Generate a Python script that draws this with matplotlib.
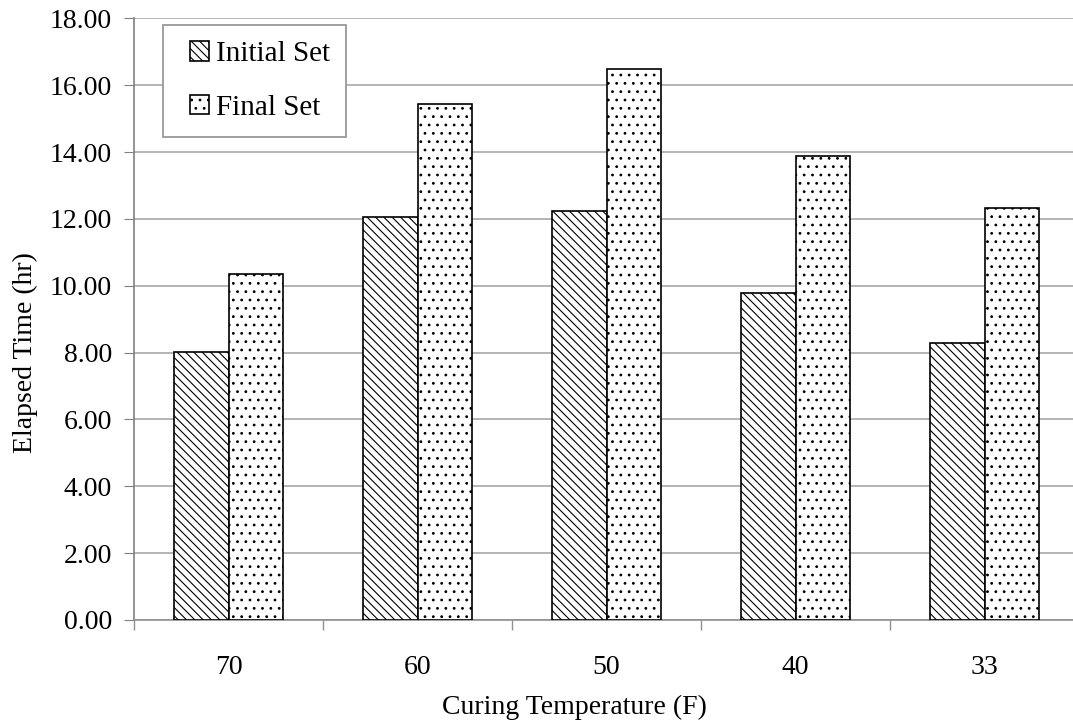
import numpy as np
import matplotlib
matplotlib.use("Agg")
import matplotlib.pyplot as plt
from matplotlib.ticker import FixedLocator, FormatStrFormatter
from matplotlib.legend_handler import HandlerPatch, update_from_first_child
from matplotlib.patches import Rectangle
from matplotlib.container import BarContainer

# Tiempos de fraguado por temperatura de curado
temperaturas = ["70", "60", "50", "40", "33"]
fraguado_inicial = [8.02, 12.05, 12.25, 9.77, 8.28]
fraguado_final = [10.35, 15.45, 16.48, 13.89, 12.33]
etiquetas_serie = ["Initial Set", "Final Set"]

plt.rcParams["font.family"] = ["Liberation Serif", "DejaVu Serif"]
plt.rcParams["hatch.linewidth"] = 0.8


def cuadro(legend, orig_handle, xdescent, ydescent, width, height, fontsize):
    # Cuadro pequeño pegado al texto de la leyenda
    lado = height
    return Rectangle((width - lado - xdescent, -ydescent), lado, lado)


fig = plt.figure(figsize=(10.73, 7.27), dpi=100)
ax = fig.add_axes([0.1249, 0.1472, 0.8807, 0.8276])

x = np.arange(len(temperaturas))
ancho = 0.29

ax.bar(x - ancho / 2, fraguado_inicial, ancho, facecolor="white", edgecolor="black",
       linewidth=1.2, hatch="\\\\\\\\", label=etiquetas_serie[0], zorder=3)
ax.bar(x + ancho / 2, fraguado_final, ancho, facecolor="white", edgecolor="black",
       linewidth=1.2, hatch="..", label=etiquetas_serie[1], zorder=3)

ax.set_xlim(-0.5, len(temperaturas) - 0.5)
ax.set_ylim(0, 18)
ax.set_yticks(np.arange(0, 18.1, 2))
ax.yaxis.set_major_formatter(FormatStrFormatter("%.2f"))
ax.grid(axis="y", color="#a8a8a8", linewidth=1.2, zorder=0)

ax.set_xticks(x)
ax.set_xticklabels(temperaturas)
ax.xaxis.set_minor_locator(FixedLocator(np.arange(-0.5, len(temperaturas), 1.0)))
ax.tick_params(axis="x", which="major", length=0, pad=25, labelsize=20)
ax.tick_params(axis="x", which="minor", length=7, color="#909090", width=1)
ax.tick_params(axis="y", length=7, pad=9, labelsize=20, color="#808080")

for lado in ["top", "right"]:
    ax.spines[lado].set_visible(False)
ax.spines["left"].set_color("#808080")
ax.spines["bottom"].set_color("#909090")
ax.spines["left"].set_linewidth(1.2)
ax.spines["bottom"].set_linewidth(1.2)

ax.set_xlabel("Curing Temperature (F)", fontsize=20, labelpad=11)
ax.xaxis.label.set_x(0.466)
ax.set_ylabel("Elapsed Time (hr)", fontsize=20, labelpad=8)
ax.yaxis.label.set_y(0.444)

manejador = HandlerPatch(patch_func=cuadro, update_func=update_from_first_child)
leyenda = ax.legend(loc="upper left", bbox_to_anchor=(0.0307, 0.9889), borderaxespad=0,
                    fontsize=21, handlelength=1.03, handleheight=0.65, handletextpad=0.25,
                    labelspacing=0.95, borderpad=0.55, fancybox=False, framealpha=1,
                    edgecolor="#999999", handler_map={BarContainer: manejador})
leyenda.get_frame().set_linewidth(1.3)

fig.savefig("out.png", dpi=100)
